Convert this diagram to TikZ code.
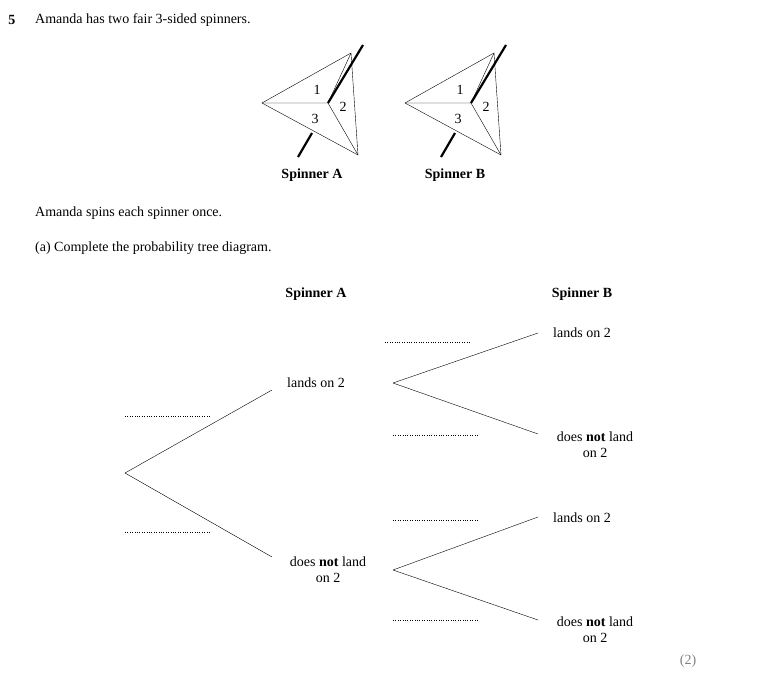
\documentclass[tikz,border=0pt]{standalone}
\usepackage{fontspec}
\setmainfont{Liberation Serif}
\begin{document}
\begin{tikzpicture}[x=1pt,y=-1pt,font=\fontsize{14}{16}\selectfont,
	txt/.style={anchor=west,inner sep=0pt},
	lbl/.style={align=center,inner sep=0pt},
	gap/.style={dotted,thin},
	pointer/.style={line width=2.2pt}]

	\useasboundingbox (0,0) rectangle (766,688);

	\node 	(q5)	at	(12,20)	[bold?/.style={},font=\fontsize{14}{16}\selectfont\bfseries]{5};
	\node 	(t1)	at	(35,20)	[txt]{Amanda has two fair 3-sided spinners.};
	\node 	(t2)	at	(35,213)	[txt]{Amanda spins each spinner once.};
	\node 	(t3)	at	(35,248)	[txt]{(a) Complete the probability tree diagram.};

	% spinners
	\foreach \dx/\nm in {0/A,143/B}{
	\begin{scope}[xshift=\dx]
		\coordinate (l\nm) at (262,103);
		\coordinate (t\nm) at (351,53);
		\coordinate (b\nm) at (358,155);
		\coordinate (c\nm) at (328,103);
		\draw[thin] (l\nm) -- (t\nm) -- (b\nm) -- cycle;
		\draw[thin] (l\nm) -- (c\nm) -- (b\nm);
		\draw[thin] (t\nm) -- (c\nm);
		\draw[pointer] (c\nm) -- (363,45);
		\draw[pointer] (312,133) -- (298,157);
		\node (one\nm)	at (317,90)	[lbl]{1};
		\node (two\nm)	at (343,107)	[lbl]{2};
		\node (three\nm)	at (315,119)	[lbl]{3};
		\node (sp\nm)	at (312,175)	[lbl,font=\fontsize{14}{16}\selectfont\bfseries]{Spinner \nm};
	\end{scope}}

	% tree
	\node 	(hA)	at	(316,294)	[lbl,font=\fontsize{14}{16}\selectfont\bfseries]{Spinner A};
	\node 	(hB)	at	(582,294)	[lbl,font=\fontsize{14}{16}\selectfont\bfseries]{Spinner B};

	\coordinate (root) at (125,473);
	\node 	(a1)	at	(316,383)	[lbl]{lands on 2};
	\node 	(a2)	at	(328,570)	[lbl]{does \textbf{not} land\\on 2};
	\node 	(b1)	at	(582,333)	[lbl]{lands on 2};
	\node 	(b2)	at	(595,445)	[lbl]{does \textbf{not} land\\on 2};
	\node 	(b3)	at	(582,518)	[lbl]{lands on 2};
	\node 	(b4)	at	(595,630)	[lbl]{does \textbf{not} land\\on 2};

	\draw[thin]	(root)	--	(272,390);
	\draw[thin]	(root)	--	(272,557);
	\draw[thin]	(393,383)	--	(538,333);
	\draw[thin]	(393,383)	--	(538,434);
	\draw[thin]	(393,570)	--	(538,517);
	\draw[thin]	(393,570)	--	(538,620);

	\draw[gap]	(125,416)	--	(211,416);
	\draw[gap]	(125,532)	--	(211,532);
	\draw[gap]	(385,342)	--	(470,342);
	\draw[gap]	(393,435)	--	(478,435);
	\draw[gap]	(393,520)	--	(478,520);
	\draw[gap]	(393,620)	--	(478,620);

	\node 	(mk)	at	(688,661)	[lbl,text=gray]{(2)};

\end{tikzpicture}
\end{document}
